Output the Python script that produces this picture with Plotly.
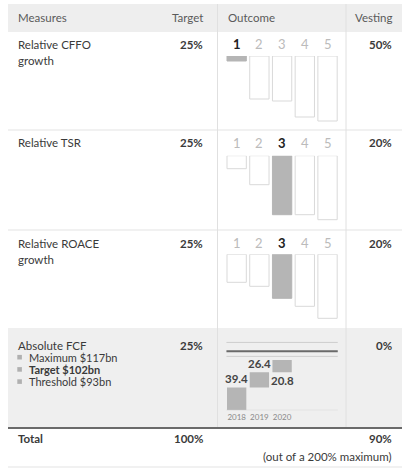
import plotly.graph_objects as go
import numpy as np

# ---------------- data ----------------
headers = ["Measures", "Target", "Outcome", "Vesting"]
measures = ["Relative CFFO<br>growth", "Relative TSR", "Relative ROACE<br>growth", "Absolute FCF"]
targets = ["25%", "25%", "25%", "25%"]
vesting = ["50%", "20%", "20%", "0%"]

ranks = [1, 2, 3, 4, 5]
rank_outcome = [1, 3, 3]
rank_heights = [
    [5, 43, 45, 61, 65],
    [13, 29, 59, 59, 64],
    [28, 32, 44, 52, 64],
]

fcf_years = ["2018", "2019", "2020"]
fcf_values = [39.4, 26.4, 20.8]
fcf_level_names = ["Maximum", "Target", "Threshold"]
fcf_levels = [117, 102, 93]

total_label = "Total"
total_target = "100%"
total_vesting = "90%"
total_note = "(out of a 200% maximum)"

# ---------------- layout helpers ----------------
W, H = 402, 470
FONT = "Lato"
TXT = "#3a3a3a"
HDR = "#5a5a5a"
BAR = "#b5b5b5"
OUTL = "#d9d9d9"
LINE = "#e3e3e3"
FS = 11.5


def X(p):
    return p / W


def Y(p):
    return 1 - p / H


fig = go.Figure()
annotations = []
shapes = []


def text(x, y, s, anchor="left", size=FS, color=TXT, bold=False):
    annotations.append(dict(
        x=X(x), y=Y(y), xref="paper", yref="paper", text=s, showarrow=False,
        xanchor=anchor, yanchor="middle", borderpad=0,
        font=dict(family=FONT, size=size, color=color, weight=700 if bold else 400),
    ))


def rect(x0, y0, x1, y1, fill, layer="below"):
    shapes.append(dict(type="rect", xref="paper", yref="paper", x0=X(x0), x1=X(x1),
                       y0=Y(y1), y1=Y(y0), fillcolor=fill, line=dict(width=0), layer=layer))


def hline(y, x0, x1, color, width=1):
    shapes.append(dict(type="line", xref="paper", yref="paper", x0=X(x0), x1=X(x1),
                       y0=Y(y), y1=Y(y), line=dict(color=color, width=width), layer="below"))


def vline(x, y0, y1, color, width=1):
    shapes.append(dict(type="line", xref="paper", yref="paper", x0=X(x), x1=X(x),
                       y0=Y(y0), y1=Y(y1), line=dict(color=color, width=width), layer="below"))


LEFT, RIGHT = 8, 402
COL1, COL2 = 217.5, 346
TXT_L, TGT_R, VEST_R, OUT_L = 17, 204, 393, 227

# backgrounds
rect(LEFT, 4, RIGHT, 32, "#eeeeee")
rect(LEFT, 328, RIGHT, 428, "#efefef")
hline(130, LEFT, RIGHT, LINE)
hline(230, LEFT, RIGHT, LINE)
hline(467, LEFT, RIGHT, LINE)
vline(COL1, 4, 428, "#e0e0e0")
vline(COL2, 4, 428, "#e0e0e0")
hline(428, LEFT, RIGHT, "#6a6a6a", 2)

# header
text(TXT_L, 18, headers[0], color=HDR)
text(TGT_R, 18, headers[1], anchor="right", color=HDR)
text(OUT_L, 18, headers[2], color=HDR)
text(VEST_R, 18, headers[3], anchor="right", color=HDR)

row_text_y = [44.5, 143, 243, 345]
bar_top = [56, 155.7, 254.3]

# rows text
for i, m in enumerate(measures):
    lines = m.split("<br>")
    for j, ln in enumerate(lines):
        text(TXT_L, row_text_y[i] + 16 * j, ln)
    text(TGT_R, row_text_y[i], targets[i], anchor="right", bold=True)
    text(VEST_R, row_text_y[i], vesting[i], anchor="right", bold=True)

# FCF bullets
for k, (nm, lv) in enumerate(zip(fcf_level_names, fcf_levels)):
    yy = row_text_y[3] + 12.2 * (k + 1)
    rect(17.3, yy - 2.3, 21.9, yy + 2.3, "#b0b0b0", layer="above")
    text(28, yy, f"{nm} ${lv}bn", size=11, bold=(nm == "Target"))

# total row
text(TXT_L, 438.5, total_label, bold=True)
text(TGT_R, 438.5, total_target, anchor="right", bold=True)
text(VEST_R, 438.5, total_vesting, anchor="right", bold=True)
text(VEST_R, 456, total_note, anchor="right")

# ---------------- rank bar charts ----------------
XDOM = [X(225.3), X(338.9)]
layout_axes = {}
for i, heights in enumerate(rank_heights):
    n = i + 1
    xa = "x" if n == 1 else f"x{n}"
    ya = "y" if n == 1 else f"y{n}"
    colors = [BAR if r == rank_outcome[i] else "white" for r in ranks]
    lcolors = [BAR if r == rank_outcome[i] else OUTL for r in ranks]
    fig.add_trace(go.Bar(
        x=ranks, y=[-h for h in heights], base=0, width=0.85,
        marker=dict(color=colors, line=dict(color=lcolors, width=1)),
        xaxis=xa, yaxis=ya, showlegend=False, hoverinfo="skip",
    ))
    top = bar_top[i]
    layout_axes["xaxis" + ("" if n == 1 else str(n))] = dict(
        domain=XDOM, range=[0.5, 5.5], visible=False, anchor=ya)
    layout_axes["yaxis" + ("" if n == 1 else str(n))] = dict(
        domain=[Y(top + 70), Y(top)], range=[-70, 0], visible=False, anchor=xa)
    for r in ranks:
        active = r == rank_outcome[i]
        annotations.append(dict(
            x=r, xref=xa, y=Y(row_text_y[i]), yref="paper", text=str(r), showarrow=False,
            xanchor="center", yanchor="middle",
            font=dict(family=FONT, size=13, color="#222222" if active else "#bbbbbb",
                      weight=700 if active else 400),
        ))

# ---------------- FCF waterfall ----------------
vals = np.array(fcf_values)
bases = np.concatenate([[0], np.cumsum(vals)[:-1]])
xpos = list(range(len(fcf_years)))
fig.add_trace(go.Bar(
    x=xpos, y=vals, base=bases, width=0.85,
    marker=dict(color=BAR, line=dict(width=0)),
    xaxis="x4", yaxis="y4", showlegend=False, hoverinfo="skip",
))
BASE_PX = 410.3
PX_PER = 0.58
layout_axes["xaxis4"] = dict(
    domain=XDOM, range=[-0.5, 4.5], anchor="y4", showgrid=False, zeroline=False,
    showline=False, ticks="", tickvals=xpos, ticktext=fcf_years,
    tickfont=dict(family=FONT, size=8, color="#8a8a8a"), ticklabelstandoff=1,
)
layout_axes["yaxis4"] = dict(
    domain=[Y(BASE_PX), Y(BASE_PX - 72)], range=[0, 72 / PX_PER], visible=False, anchor="x4")

# reference lines
for nm, lv in zip(fcf_level_names, fcf_levels):
    target = nm == "Target"
    shapes.append(dict(type="line", xref="x4", yref="y4", x0=-0.45, x1=4.45, y0=lv, y1=lv,
                       line=dict(color="#6a6a6a" if target else "#cfcfcf", width=2 if target else 1)))
shapes.append(dict(type="line", xref="x4", yref="y4", x0=-0.45, x1=4.45, y0=0, y1=0,
                   line=dict(color="#cfcfcf", width=1)))

# value labels: above for first two, below for last
for k, (xp, v, b) in enumerate(zip(xpos, vals, bases)):
    below = k == len(vals) - 1
    annotations.append(dict(
        x=xp, xref="x4", y=(b if below else b + v), yref="y4", text=f"{v:.1f}",
        showarrow=False, xanchor="center", yanchor="top" if below else "bottom",
        font=dict(family=FONT, size=11.5, color="#444444", weight=700),
    ))

fig.update_layout(
    width=W, height=H, margin=dict(l=0, r=0, t=0, b=0),
    paper_bgcolor="white", plot_bgcolor="rgba(0,0,0,0)",
    template="none", showlegend=False,
    annotations=annotations, shapes=shapes, bargap=0.15,
    **layout_axes,
)

fig.write_html("out.html")
